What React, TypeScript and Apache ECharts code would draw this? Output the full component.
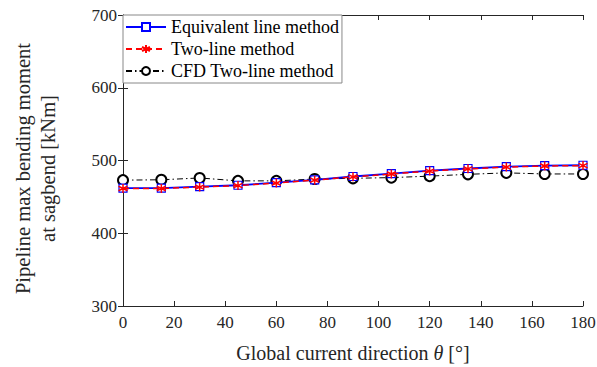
import React, { useEffect, useRef } from "react";
import * as echarts from "echarts";

const directions = [0, 15, 30, 45, 60, 75, 90, 105, 120, 135, 150, 165, 180];
const equivalentLine = [462, 462, 464, 466, 469.5, 473.5, 478, 482, 486, 489, 491.5, 493, 493.5];
const twoLine = [461.5, 461.5, 463.5, 465.5, 469, 473, 477.5, 481.5, 485.5, 488.5, 491, 492.5, 493];
const cfdTwoLine = [473, 473.5, 476, 472, 472, 474.5, 475.5, 476.5, 478.5, 481, 483, 481.5, 481.5];

const FONT = "'Liberation Serif', 'Times New Roman', 'DejaVu Serif', serif";
const asterisk = "path://M0,-5L0,5M-4.33,-2.5L4.33,2.5M-4.33,2.5L4.33,-2.5";

export default function App() {
  const ref = useRef<HTMLDivElement>(null);
  useEffect(() => {
    if (!ref.current) return;
    const chart = echarts.init(ref.current, undefined, { renderer: "svg" });
    const pair = (ys: number[]) => directions.map((d, i) => [d, ys[i]]);
    const axisCommon = {
      axisLine: { show: true, lineStyle: { color: "#262626", width: 1 } },
      axisTick: { show: true, inside: true, length: 5, lineStyle: { color: "#262626" } },
      splitLine: { show: false },
    };
    chart.setOption({
      animation: false,
      backgroundColor: "#fff",
      textStyle: { fontFamily: FONT },
      grid: { left: 123, right: 14, top: 15, bottom: 61, outerBoundsMode: "none", containLabel: false },
      legend: {
        orient: "vertical",
        left: 123,
        top: 15,
        itemGap: 4,
        itemWidth: 40,
        itemHeight: 10,
        padding: [3, 3, 3, 2],
        borderColor: "#888",
        borderWidth: 1,
        backgroundColor: "#fff",
        textStyle: { fontFamily: FONT, fontSize: 18, color: "#000" },
        data: ["Equivalent line method", "Two-line method", "CFD Two-line method"],
      },
      xAxis: [
        {
          type: "value",
          min: 0,
          max: 180,
          interval: 20,
          name: "Global current direction {i|θ} [°]",
          nameLocation: "middle",
          nameGap: 37,
          nameTextStyle: {
            fontFamily: FONT,
            fontSize: 20,
            color: "#262626",
            rich: { i: { fontFamily: FONT, fontSize: 20, fontStyle: "italic", color: "#262626" } },
          },
          axisLabel: { fontFamily: FONT, fontSize: 17, color: "#262626", margin: 8 },
          ...axisCommon,
        },
        {
          type: "value",
          position: "top",
          min: 0,
          max: 180,
          interval: 20,
          axisLabel: { show: false },
          ...axisCommon,
        },
      ],
      yAxis: [
        {
          type: "value",
          min: 300,
          max: 700,
          interval: 100,
          name: "Pipeline max bending moment\nat sagbend [kNm]",
          nameLocation: "middle",
          nameGap: 63,
          nameTextStyle: { fontFamily: FONT, fontSize: 20.5, color: "#262626", lineHeight: 25, padding: [0, 16, 0, 0] },
          axisLabel: { fontFamily: FONT, fontSize: 17, color: "#262626", margin: 6 },
          ...axisCommon,
        },
        {
          type: "value",
          position: "right",
          min: 300,
          max: 700,
          interval: 100,
          axisLabel: { show: false },
          ...axisCommon,
        },
      ],
      series: [
        {
          name: "Equivalent line method",
          type: "line",
          data: pair(equivalentLine),
          symbol: "rect",
          symbolSize: 8,
          showAllSymbol: true,
          itemStyle: { color: "#fff", borderColor: "#0000ff", borderWidth: 1.2 },
          lineStyle: { color: "#0000ff", width: 1.8 },
          z: 2,
        },
        {
          name: "Two-line method",
          type: "line",
          data: pair(twoLine),
          symbol: asterisk,
          symbolSize: 9,
          itemStyle: { color: "#ff0000", borderColor: "#ff0000", borderWidth: 1.5 },
          lineStyle: { color: "#ff0000", width: 1.5, type: [6, 4] },
          z: 3,
        },
        {
          name: "CFD Two-line method",
          type: "line",
          data: pair(cfdTwoLine),
          symbol: "emptyCircle",
          symbolSize: 10,
          itemStyle: { color: "#000", borderColor: "#000", borderWidth: 1 },
          lineStyle: { color: "#000", width: 1, type: [6, 3, 1.5, 3] },
          z: 1,
        },
      ],
    });
    return () => chart.dispose();
  }, []);
  return <div ref={ref} style={{ width: 597, height: 367, position: "absolute", left: 0, top: 0 }} />;
}
